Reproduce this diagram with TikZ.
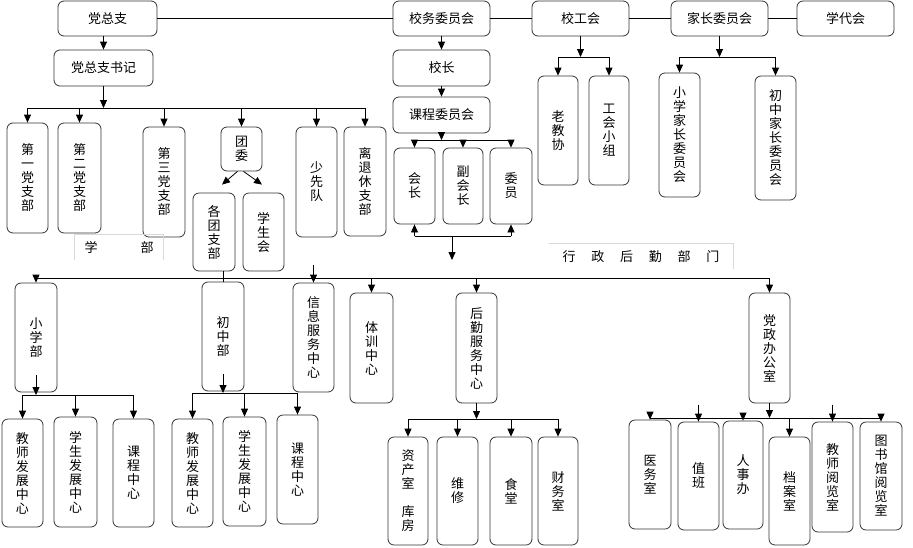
\documentclass[tikz,border=0pt]{standalone}
\usepackage{fontspec}
\setmainfont{Noto Sans CJK SC}
\usetikzlibrary{arrows.meta}

\begin{document}
\begin{tikzpicture}[x=1pt, y=-1pt,
  box/.style={draw=black!80, line width=0.8pt, rounded corners=6pt, align=center, inner sep=0pt, font=\fontsize{13}{14}\selectfont},
  arr/.style={-{Triangle[length=8pt,width=7pt]}, line width=0.8pt},
  link/.style={line width=0.8pt},
  faint/.style={draw=black!15, line width=0.8pt},
  tag/.style={inner sep=0pt, font=\fontsize{13}{14}\selectfont}]
\useasboundingbox (0,0) rectangle (913,547);

% Top row
\node[box, minimum width=99pt, minimum height=35pt] (dzz) at (107.5,18.5) {党总支};
\node[box, minimum width=97pt, minimum height=35pt] (xwwyh) at (441.5,18.5) {校务委员会};
\node[box, minimum width=97pt, minimum height=35pt] (xgh) at (580.5,18.5) {校工会};
\node[box, minimum width=97pt, minimum height=35pt] (jzwyh) at (719.5,18.5) {家长委员会};
\node[box, minimum width=97pt, minimum height=35pt] (xdh) at (845.5,18.5) {学代会};
\node[box, minimum width=99pt, minimum height=36pt] (sj) at (103.5,68) {党总支书记};
\node[box, minimum width=97pt, minimum height=36pt] (xz) at (441.5,68) {校长};
\node[box, minimum width=97pt, minimum height=36pt] (kcwyh) at (441.5,115) {课程委员会};

% Party branches
\node[box, minimum width=41pt, minimum height=110pt] (zb1) at (27.5,178) {第\\一\\党\\支\\部};
\node[box, minimum width=43pt, minimum height=110pt] (zb2) at (79.5,178) {第\\二\\党\\支\\部};
\node[box, minimum width=42pt, minimum height=110pt] (zb3) at (164,182) {第\\三\\党\\支\\部};
\node[box, minimum width=41pt, minimum height=44pt] (tw) at (241.5,149) {团\\委};
\node[box, minimum width=41pt, minimum height=110pt] (sxd) at (316.5,182) {少\\先\\队};
\node[box, minimum width=42pt, minimum height=109pt] (ltx) at (365,181.5) {离\\退\\休\\支\\部};
\node[box, minimum width=42pt, minimum height=78pt] (gtzb) at (214,232) {各\\团\\支\\部};
\node[box, minimum width=41pt, minimum height=78pt] (xsh) at (263.5,232) {学\\生\\会};
\node[tag, minimum width=88pt, minimum height=25pt] (xbu) at (119,247.5) {学\hspace{43pt}部};
\draw[faint] (xbu.south west) |- (xbu.north east) -- (xbu.south east);

% Course committee
\node[box, minimum width=41pt, minimum height=76pt] (hz) at (414.5,186) {会\\长};
\node[box, minimum width=40pt, minimum height=76pt] (fhz) at (463,186) {副\\会\\长};
\node[box, minimum width=42pt, minimum height=76pt] (wy) at (511,186) {委\\员};

% Union and parents
\node[box, minimum width=40pt, minimum height=109pt] (ljx) at (558,130.5) {老\\教\\协};
\node[box, minimum width=40pt, minimum height=109pt] (ghxz) at (609,130.5) {工\\会\\小\\组};
\node[box, minimum width=41pt, minimum height=124pt] (xxjz) at (679.5,135) {小\\学\\家\\长\\委\\员\\会};
\node[box, minimum width=41pt, minimum height=124pt] (czjz) at (775.5,138) {初\\中\\家\\长\\委\\员\\会};
\node[tag, minimum width=184pt, minimum height=25pt] (xzhq) at (641,256.5) {行\hspace{15.8pt}政\hspace{15.8pt}后\hspace{15.8pt}勤\hspace{15.8pt}部\hspace{15.8pt}门};
\draw[faint] (xzhq.north west) -- (xzhq.north east) -- (xzhq.south east);

% Departments
\node[box, minimum width=42pt, minimum height=109pt] (xxb) at (36,337.5) {小\\学\\部};
\node[box, minimum width=42pt, minimum height=109pt] (czb) at (223,336.5) {初\\中\\部};
\node[box, minimum width=41pt, minimum height=109pt] (xxfw) at (313.5,337.5) {信\\息\\服\\务\\中\\心};
\node[box, minimum width=43pt, minimum height=110pt] (txzx) at (371.5,348) {体\\训\\中\\心};
\node[box, minimum width=41pt, minimum height=110pt] (hqfw) at (476.5,348) {后\\勤\\服\\务\\中\\心};
\node[box, minimum width=41pt, minimum height=110pt] (dzbgs) at (769.5,348) {党\\政\\办\\公\\室};

% Bottom row
\node[box, minimum width=41pt, minimum height=108pt] (jsfz1) at (22.5,473) {教\\师\\发\\展\\中\\心};
\node[box, minimum width=43pt, minimum height=110pt] (xsfz1) at (75.5,472) {学\\生\\发\\展\\中\\心};
\node[box, minimum width=41pt, minimum height=108pt] (kczx1) at (133.5,473) {课\\程\\中\\心};
\node[box, minimum width=41pt, minimum height=108pt] (jsfz2) at (192.5,473) {教\\师\\发\\展\\中\\心};
\node[box, minimum width=43pt, minimum height=109pt] (xsfz2) at (244.5,471.5) {学\\生\\发\\展\\中\\心};
\node[box, minimum width=41pt, minimum height=109pt] (kczx2) at (297.5,469.5) {课\\程\\中\\心};
\node[box, minimum width=40pt, minimum height=108pt] (zcs) at (408,491) {资\\产\\室\\[14pt]库\\房};
\node[box, minimum width=41pt, minimum height=108pt] (wx) at (457.5,491) {维\\修};
\node[box, minimum width=42pt, minimum height=108pt] (st) at (511,491) {食\\堂};
\node[box, minimum width=40pt, minimum height=108pt] (cws) at (558,491) {财\\务\\室};
\node[box, minimum width=42pt, minimum height=109pt] (yws) at (650,474.5) {医\\务\\室};
\node[box, minimum width=41pt, minimum height=108pt] (zhb) at (698.5,476) {值\\班};
\node[box, minimum width=40pt, minimum height=108pt] (rsb) at (743,475) {人\\事\\办};
\node[box, minimum width=41pt, minimum height=108pt] (das) at (789.5,491) {档\\案\\室};
\node[box, minimum width=41pt, minimum height=110pt] (jsyls) at (832.5,477) {教\\师\\阅\\览\\室};
\node[box, minimum width=42pt, minimum height=108pt] (tsg) at (881,476) {图\\书\\馆\\阅\\览\\室};

% Top links
\draw[link] (dzz) -- (xwwyh);
\draw[link] (xwwyh) -- (xgh);
\draw[link] (xgh) -- (jzwyh);
\draw[link] (jzwyh) -- (xdh);
\draw[arr] (dzz.south -| sj.north) -- (sj.north);
\draw[arr] (xwwyh.south) -- (xz.north);
\draw[arr] (xz.south) -- (kcwyh.north);

% Party secretary bus
\coordinate (b1) at (0,108);
\draw[arr] (sj.south) -- (b1 -| sj);
\draw[link] (b1 -| zb1) -- (b1 -| ltx);
\draw[arr] (b1 -| zb1) -- (zb1.north);
\draw[arr] (b1 -| zb2) -- (zb2.north);
\draw[arr] (b1 -| zb3) -- (zb3.north);
\draw[arr] (b1 -| tw) -- (tw.north);
\draw[arr] (b1 -| sxd) -- (sxd.north);
\draw[arr] (b1 -| ltx) -- (ltx.north);
\draw[arr] ([xshift=-4pt]tw.south) -- ([xshift=8pt,yshift=8pt]gtzb.north);
\draw[arr] ([xshift=2pt]tw.south) -- ([xshift=-1.5pt,yshift=8pt]xsh.north);

% Course committee bus
\coordinate (b3) at (0,140);
\draw[arr] (kcwyh.south) -- (b3 -| kcwyh);
\draw[link] (b3 -| hz) -- (b3 -| wy);
\draw[arr] (b3 -| hz) -- (hz.north);
\draw[arr] (b3 -| fhz) -- (fhz.north);
\draw[arr] (b3 -| wy) -- (wy.north);
\coordinate (b4) at (0,236);
\coordinate (kcend) at (452,260);
\draw[link] (b4 -| hz) -- (b4 -| wy);
\draw[arr] (b4 -| hz) -- (hz.south);
\draw[arr] (b4 -| wy) -- (wy.south);
\draw[arr] (b4 -| kcend) -- (kcend);

% Union and parents buses
\coordinate (b5) at (0,57);
\draw[arr] (xgh.south) -- (b5 -| xgh);
\draw[link] (b5 -| ljx) -- (b5 -| ghxz);
\draw[arr] (b5 -| ljx) -- (ljx.north);
\draw[arr] (b5 -| ghxz) -- (ghxz.north);
\draw[arr] (jzwyh.south) -- (b5 -| jzwyh);
\draw[link] (b5 -| xxjz) -- (b5 -| czjz);
\draw[arr] (b5 -| xxjz) -- (xxjz.north);
\draw[arr] (b5 -| czjz) -- (czjz.north);

% Department bus
\coordinate (b2) at (0,278);
\draw[link] (b2 -| xxb) -- (b2 -| dzbgs);
\draw[link] (gtzb.south -| czb.north) -- (czb.north);
\draw[arr] (b2 -| xxb) -- (xxb.north);
\draw[arr] ([yshift=18pt]xxfw.north) -- (xxfw.north);
\draw[arr] (b2 -| txzx) -- (txzx.north);
\draw[arr] (b2 -| hqfw) -- (hqfw.north);
\draw[arr] (b2 -| dzbgs) -- (dzbgs.north);

% Primary and junior buses
\coordinate (b6) at (0,395);
\draw[arr] ([yshift=17pt]xxb.south) -- (b6 -| xxb);
\draw[link] (b6 -| jsfz1) -- (b6 -| kczx1);
\draw[arr] (b6 -| jsfz1) -- (jsfz1.north);
\draw[arr] (b6 -| xsfz1) -- (xsfz1.north);
\draw[arr] (b6 -| kczx1) -- (kczx1.north);
\coordinate (b7) at (0,393);
\draw[arr] ([yshift=17pt]czb.south) -- (b7 -| czb);
\draw[link] (b7 -| jsfz2) -- (b7 -| kczx2);
\draw[arr] (b7 -| jsfz2) -- (jsfz2.north);
\draw[arr] (b7 -| xsfz2) -- (xsfz2.north);
\draw[arr] (b7 -| kczx2) -- (kczx2.north);

% Logistics and office buses
\coordinate (b8) at (0,419);
\draw[arr] (hqfw.south) -- (b8 -| hqfw);
\draw[link] (b8 -| zcs) -- (b8 -| cws);
\draw[arr] (b8 -| zcs) -- (zcs.north);
\draw[arr] (b8 -| wx) -- (wx.north);
\draw[arr] (b8 -| st) -- (st.north);
\draw[arr] (b8 -| cws) -- (cws.north);
\coordinate (b9) at (0,418);
\draw[arr] (dzbgs.south) -- (b9 -| dzbgs);
\draw[link] (b9 -| yws) -- (b9 -| tsg);
\draw[arr] (b9 -| yws) -- (yws.north);
\draw[arr] ([yshift=17pt]zhb.north) -- (zhb.north);
\draw[arr] (b9 -| rsb) -- (rsb.north);
\draw[arr] (b9 -| das) -- (das.north);
\draw[arr] ([yshift=17pt]jsyls.north) -- (jsyls.north);
\draw[arr] (b9 -| tsg) -- (tsg.north);
\end{tikzpicture}
\end{document}
